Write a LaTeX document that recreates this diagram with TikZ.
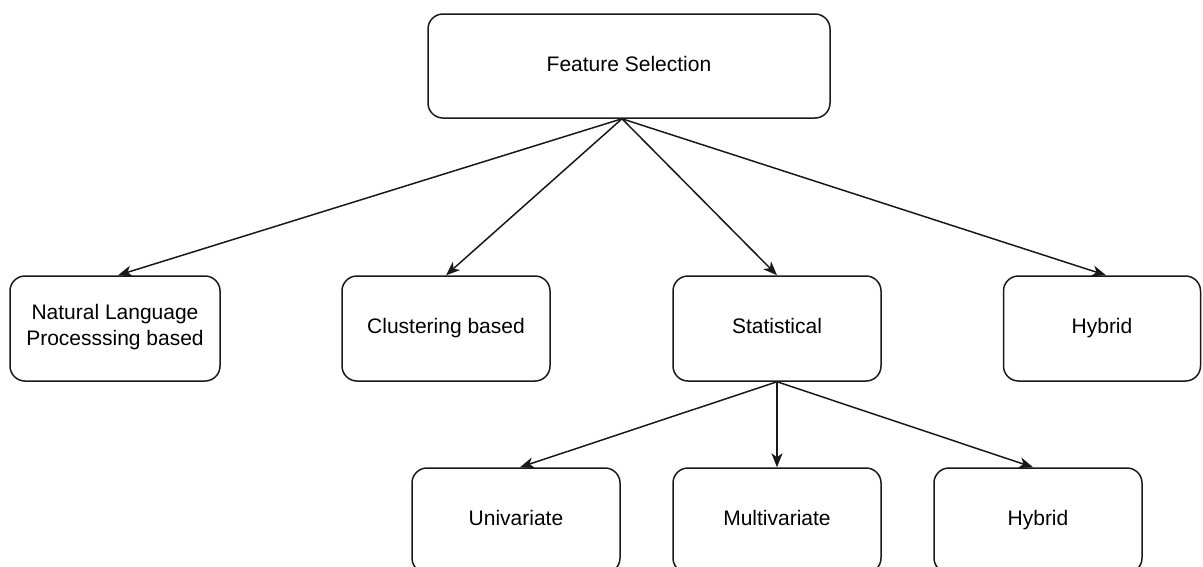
\documentclass[tikz,border=0pt]{standalone}
\usepackage{fontspec}
\setmainfont{Liberation Sans}
\usetikzlibrary{arrows.meta}
\begin{document}
\begin{tikzpicture}[x=1pt,y=-1pt,
  box/.style={draw=black!90, line width=1.5pt, rounded corners=15pt,
    minimum width=208pt, minimum height=105pt, align=center,
    font=\fontsize{21}{26}\selectfont, inner sep=0pt,
    execute at begin node=\strut},
  link/.style={draw=black!90, line width=1.5pt,
    -{Stealth[length=14pt,width=11pt,inset=4pt]}}]
\clip (0,0) rectangle (1203,566);
\useasboundingbox (0,0) rectangle (1203,566);
% root
\node[box, minimum width=402pt, minimum height=104pt] (fs) at (629,66) {Feature Selection};
% first level
\node[box, minimum width=210pt] (nlp) at (115,328.5) {Natural Language\\Processsing based};
\node[box] (clu) at (446,328.5) {Clustering based};
\node[box] (stat) at (777,328.5) {Statistical};
\node[box, minimum width=197pt] (hyb) at (1102,328.5) {Hybrid};
% second level
\node[box] (uni) at (516,520.5) {Univariate};
\node[box] (mul) at (777,520.5) {Multivariate};
\node[box] (hyb2) at (1038,520.5) {Hybrid};
% connectors
\coordinate (src) at ([xshift=-7pt]fs.south);
\draw[link] (src) -- ([xshift=3pt]nlp.north);
\draw[link] (src) -- (clu.north);
\draw[link] (src) -- (stat.north);
\draw[link] (src) -- ([xshift=4pt]hyb.north);
\draw[link] (stat.south) -- ([xshift=4pt]uni.north);
\draw[link] (stat.south) -- (mul.north);
\draw[link] (stat.south) -- ([xshift=-5pt]hyb2.north);
\end{tikzpicture}
\end{document}
